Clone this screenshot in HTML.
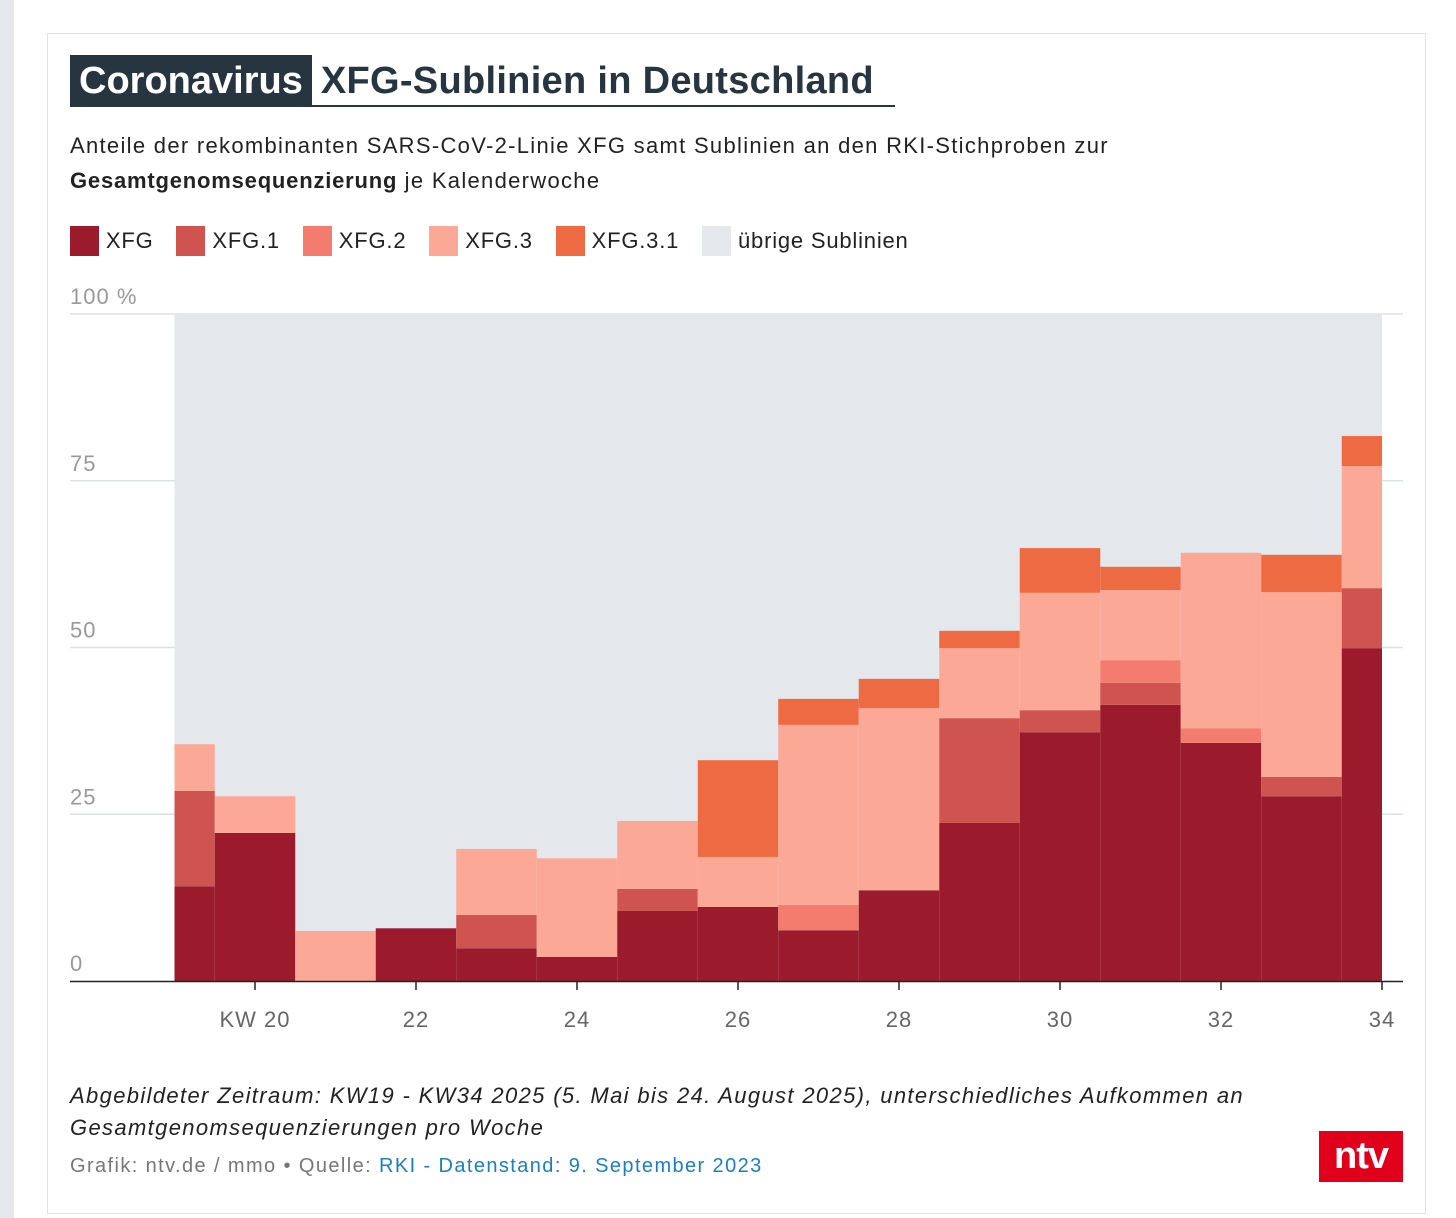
<!DOCTYPE html>
<html><head><meta charset="utf-8">
<style>
body{margin:0;width:1456px;height:1218px;background:#fff;position:relative;overflow:hidden;font-family:"Liberation Sans",sans-serif;}
.strip{position:absolute;left:0;top:0;width:14px;height:1218px;background:#e4e7eb}
.card{position:absolute;left:47px;top:33px;width:1377px;height:1179px;border:1px solid #dfe3e8;}
.abs{position:absolute;white-space:nowrap}
</style></head><body>
<div class="strip"></div>
<div class="card"></div>
<div class="abs" style="left:70px;top:55px;height:50px;width:825px;border-bottom:2px solid #263540;">
  <span style="display:inline-block;background:#263540;color:#fff;font-weight:bold;font-size:38px;line-height:52px;padding:0 9px;letter-spacing:0px">Coronavirus</span><span style="color:#263540;font-weight:bold;font-size:38px;line-height:52px;padding-left:9px;letter-spacing:0.3px">XFG-Sublinien in Deutschland</span>
</div>
<div class="abs" style="left:70px;top:128px;font-size:22px;line-height:35px;color:#222;letter-spacing:1.3px">Anteile der rekombinanten SARS-CoV-2-Linie XFG samt Sublinien an den RKI-Stichproben zur<br><b style="letter-spacing:0.8px">Gesamtgenomsequenzierung</b> je Kalenderwoche</div>
<div class="abs" style="left:70px;top:226px;font-size:22px;color:#222;line-height:30px;letter-spacing:0.8px">
 <span><span style="display:inline-block;width:29px;height:30px;background:#9b1a2c;vertical-align:top"></span> XFG</span>
 <span style="margin-left:16px"><span style="display:inline-block;width:29px;height:30px;background:#cf5450;vertical-align:top"></span> XFG.1</span>
 <span style="margin-left:16px"><span style="display:inline-block;width:29px;height:30px;background:#f47c6e;vertical-align:top"></span> XFG.2</span>
 <span style="margin-left:16px"><span style="display:inline-block;width:29px;height:30px;background:#fca897;vertical-align:top"></span> XFG.3</span>
 <span style="margin-left:16px"><span style="display:inline-block;width:29px;height:30px;background:#ee6a42;vertical-align:top"></span> XFG.3.1</span>
 <span style="margin-left:16px"><span style="display:inline-block;width:29px;height:30px;background:#e4e7eb;vertical-align:top"></span> übrige Sublinien</span>
</div>
<svg id="chart" style="position:absolute;left:0;top:0" width="1456" height="1218"></svg>
<div class="abs" style="left:70px;top:1080px;font-size:22px;line-height:32px;font-style:italic;color:#222;letter-spacing:1.35px">Abgebildeter Zeitraum: KW19 - KW34 2025 (5. Mai bis 24. August 2025), unterschiedliches Aufkommen an<br>Gesamtgenomsequenzierungen pro Woche</div>
<div class="abs" style="left:70px;top:1155px;font-size:20px;color:#777;letter-spacing:1.4px">Grafik: ntv.de / mmo • Quelle: <span style="color:#1a7fc1">RKI - Datenstand: 9. September 2023</span></div>
<div class="abs" style="left:1319px;top:1131px;width:84px;height:51px;background:#e0001b;color:#fff;font-weight:bold;font-size:38px;line-height:51px;text-align:center;letter-spacing:-1px">ntv</div>
<script>
const weeks=[19,20,21,22,23,24,25,26,27,28,29,30,31,32,33,34];
const sXFG=[14.2,22.2,0,7.9,4.9,3.6,10.5,11.1,7.6,13.6,23.7,37.3,41.4,35.7,27.7,49.9];
const sXFG1=[14.3,0,0,0,5.0,0,3.3,0,0,0,15.7,3.3,3.3,0,2.9,9.0];
const sXFG2=[0,0,0,0,0,0,0,0,3.8,0,0,0,3.4,2.2,0,0];
const sXFG3=[7.0,5.5,7.5,0,9.9,14.8,10.2,7.5,27.0,27.3,10.5,17.6,10.5,26.3,27.7,18.3];
const sXFG31=[0,0,0,0,0,0,0,14.5,3.9,4.4,2.6,6.7,3.5,0,5.6,4.5];
const yTicks=[0,25,50,75,100];
const xTicks=[20,22,24,26,28,30,32,34];
const series=[[sXFG,'#9b1a2c','xfg'],[sXFG1,'#cf5450','xfg1'],[sXFG2,'#f47c6e','xfg2'],[sXFG3,'#fca897','xfg3'],[sXFG31,'#ee6a42','xfg31']];
const NS='http://www.w3.org/2000/svg';
const svg=document.getElementById('chart');
const X=w=>255+(w-20)*80.5;
const Y=v=>981-v*6.67;
const x0=X(weeks[0]),x1=X(weeks[weeks.length-1]);
function mk(t,a){const e=document.createElementNS(NS,t);for(const k in a)e.setAttribute(k,a[k]);svg.appendChild(e);return e;}
yTicks.forEach(t=>{
  if(t>0){const g=mk('line',{x1:70,x2:1403,y1:Y(t),y2:Y(t),stroke:'#dde1e6','stroke-width':1.5});
  
  }
  const tx=mk('text',{x:70,y:Y(t)-10,'font-size':22,fill:'#999','font-family':'Liberation Sans, sans-serif','letter-spacing':1});
  tx.textContent=t===100?'100 %':String(t);
  
  
});
let bg=mk('rect',{x:x0,y:Y(100),width:x1-x0,height:Y(0)-Y(100),fill:'#e4e7eb'});


weeks.forEach((w,i)=>{
  let base=0;
  const l=Math.max(x0,X(w)-40.25),r=Math.min(x1,X(w)+40.25);
  series.forEach(([arr,col,nm])=>{
    const v=arr[i];
    if(v>0){
      const el=mk('rect',{x:l,y:Y(base+v),width:r-l,height:Y(base)-Y(base+v),fill:col});
      
      
    }
    base+=v;
  });
});
const ax=mk('line',{x1:70,x2:1403,y1:981.5,y2:981.5,stroke:'#222','stroke-width':1.5});


xTicks.forEach(w=>{
  const tk=mk('line',{x1:X(w),x2:X(w),y1:981,y2:990,stroke:'#222','stroke-width':1.5});
  
  
  const tx=mk('text',{x:X(w),y:1027,'font-size':22,fill:'#666','text-anchor':'middle','font-family':'Liberation Sans, sans-serif','letter-spacing':1});
  tx.textContent=w===20?'KW 20':String(w);
  
  
});
</script>
</body></html>
